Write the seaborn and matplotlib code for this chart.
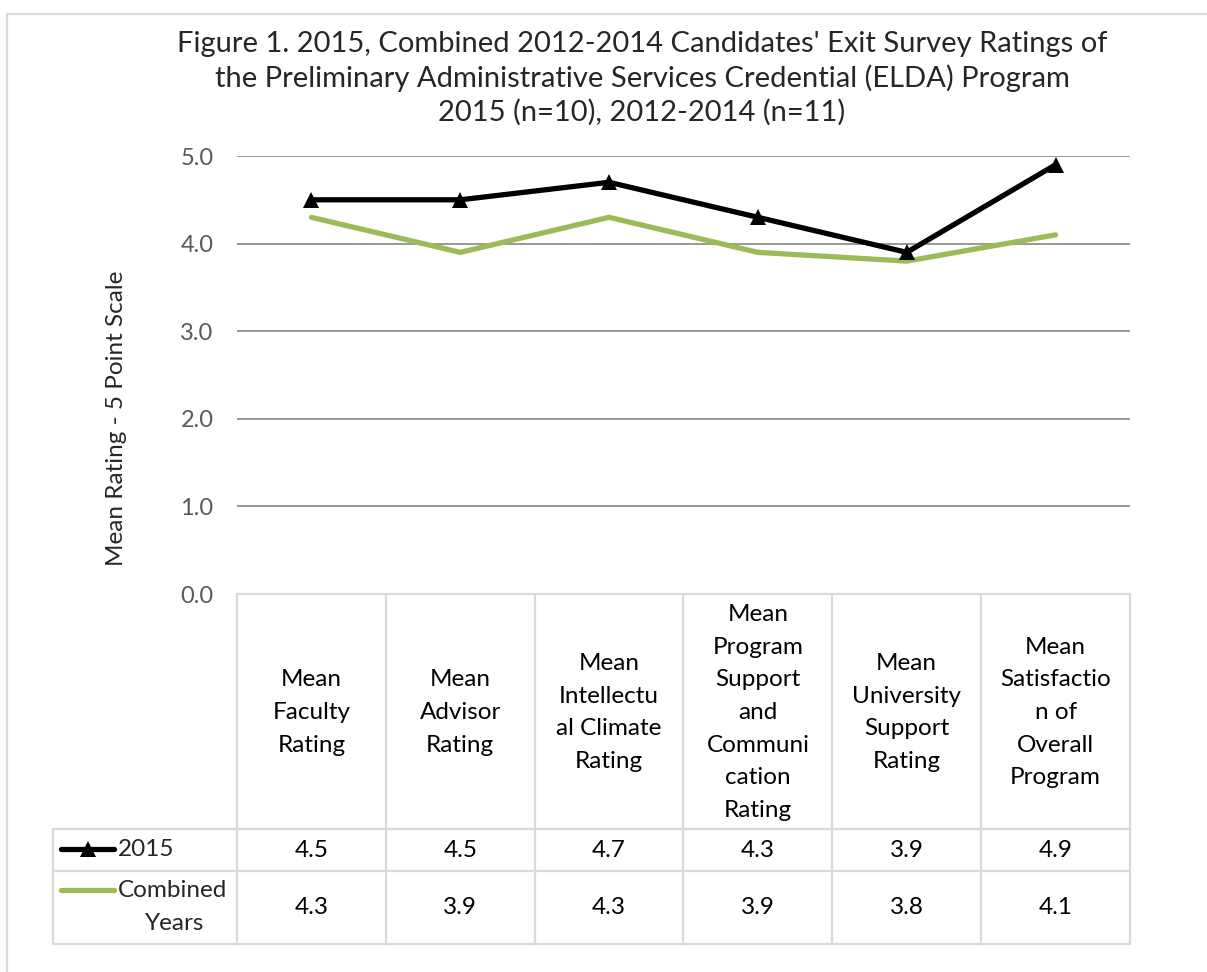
import numpy as np
import pandas as pd
import matplotlib
matplotlib.use('Agg')
import matplotlib.pyplot as plt
import matplotlib.patches as mpatches
import seaborn as sns

# ── Data ──────────────────────────────────────────────────────
categories = ['Mean\nFaculty\nRating', 'Mean\nAdvisor\nRating',
              'Mean\nIntellectu\nal Climate\nRating',
              'Mean\nProgram\nSupport\nand\nCommuni\ncation\nRating',
              'Mean\nUniversity\nSupport\nRating',
              'Mean\nSatisfactio\nn of\nOverall\nProgram']
ratings_2015     = [4.5, 4.5, 4.7, 4.3, 3.9, 4.9]
ratings_combined = [4.3, 3.9, 4.3, 3.9, 3.8, 4.1]
series_names = ['2015', 'Combined\nYears']
y_ticks = [0.0, 1.0, 2.0, 3.0, 4.0, 5.0]
title_lines = ["Figure 1. 2015, Combined 2012-2014 Candidates' Exit Survey Ratings of",
               "the Preliminary Administrative Services Credential (ELDA) Program",
               "2015 (n=10), 2012-2014 (n=11)"]
y_label = 'Mean Rating - 5 Point Scale'

# ── Style ─────────────────────────────────────────────────────
sns.set_theme(style='white')
plt.rcParams['font.family'] = ['Lato', 'DejaVu Sans']
BLACK = '#000000'
GREEN = '#9BBB59'
GRID  = '#868686'
TBL   = '#D9D9D9'
TICK  = '#595959'
FS    = 17.5

W, H = 1207, 972
fig = plt.figure(figsize=(W / 100, H / 100), dpi=100)
fig.patch.set_facecolor('white')

def fx(px): return px / W
def fy(py): return 1 - py / H

# plot area in pixels
L, R, T, B = 237, 1130, 156, 594
TBL_L, TBL_B = 53, 944
ROW1, ROW2 = 829, 871
col_w = (R - L) / len(categories)

ax = fig.add_axes([fx(L), fy(B), fx(R) - fx(L), fy(T) - fy(B)])
xs = np.arange(len(categories))
df = pd.DataFrame({'x': np.tile(xs, 2),
                   'y': ratings_2015 + ratings_combined,
                   'series': ['2015'] * 6 + ['Combined'] * 6})
sns.lineplot(data=df[df.series == 'Combined'], x='x', y='y', ax=ax,
             color=GREEN, linewidth=3.8, legend=False,
             solid_capstyle='round', zorder=3)
sns.lineplot(data=df[df.series == '2015'], x='x', y='y', ax=ax,
             color=BLACK, linewidth=3.8, marker='^', markersize=11,
             markeredgewidth=0, legend=False, zorder=4, clip_on=False)
ax.set_xlim(-0.5, len(categories) - 0.5)
ax.set_ylim(0, 5)
ax.set_yticks(y_ticks)
ax.set_yticklabels([f'{v:.1f}' for v in y_ticks], color=TICK, fontsize=17)
ax.set_xticks([])
ax.tick_params(axis='y', length=0, pad=17)
ax.set_xlabel(''); ax.set_ylabel('')
ax.grid(axis='y', color=GRID, linewidth=1.2)
ax.get_ygridlines()[0].set_visible(False)
for s in ax.spines.values():
    s.set_visible(False)

# ── Data table ────────────────────────────────────────────────
ta = fig.add_axes([fx(TBL_L), fy(TBL_B), fx(R) - fx(TBL_L), fy(B) - fy(TBL_B)])
x_left = -0.5 - (L - TBL_L) / col_w
ta.set_xlim(x_left, len(categories) - 0.5)
ta.set_ylim(TBL_B, B)
ta.axis('off')
def dx(px): return -0.5 + (px - L) / col_w

lw_t = 1.6
for b in np.arange(len(categories) + 1) - 0.5:
    ta.plot([b, b], [B, TBL_B], color=TBL, lw=lw_t, clip_on=False)
ta.plot([x_left, x_left], [ROW1, TBL_B], color=TBL, lw=lw_t, clip_on=False)
ta.plot([-0.5, len(categories) - 0.5], [B, B], color=TBL, lw=lw_t, clip_on=False)
for yy in [ROW1, ROW2, TBL_B]:
    ta.plot([x_left, len(categories) - 0.5], [yy, yy], color=TBL, lw=lw_t, clip_on=False)

for i, c in enumerate(categories):
    ta.text(i, (B + ROW1) / 2 + 1, c, ha='center', va='center', fontsize=FS,
            linespacing=1.69, color='#000000')
    ta.text(i, (ROW1 + ROW2) / 2, f'{ratings_2015[i]:.1f}', ha='center',
            va='center', fontsize=FS, color='#000000')
    ta.text(i, (ROW2 + TBL_B) / 2, f'{ratings_combined[i]:.1f}', ha='center',
            va='center', fontsize=FS, color='#000000')

# legend keys inside table
ta.plot([dx(61), dx(114)], [849, 849], color=BLACK, lw=3.8,
        solid_capstyle='round', clip_on=False)
ta.plot([dx(87.5)], [849], marker='^', color=BLACK, markersize=11,
        markeredgewidth=0, clip_on=False)
ta.plot([dx(61), dx(114)], [890, 890], color=GREEN, lw=3.8,
        solid_capstyle='round', clip_on=False)
ta.text(dx(118), 849, series_names[0], ha='left', va='center', fontsize=FS)
ta.text(dx(118), 890, series_names[1].split('\n')[0], ha='left', va='center', fontsize=FS)
ta.text(dx(175), 923, series_names[1].split('\n')[1], ha='center', va='center', fontsize=FS)

# ── Title, y label, frame ─────────────────────────────────────
for line, base in zip(title_lines, [52, 87, 121]):
    fig.text(fx(642), fy(base), line, ha='center', va='baseline', fontsize=21)
fig.text(fx(117), fy(418), y_label, rotation=90, ha='center', va='center', fontsize=17.5)

fig.patches.append(mpatches.Rectangle((fx(7), -0.1), 1.2, fy(14) + 0.1,
                                      transform=fig.transFigure, fill=False,
                                      edgecolor=TBL, lw=1.6))

plt.savefig('out.png', dpi=100)
plt.close()
